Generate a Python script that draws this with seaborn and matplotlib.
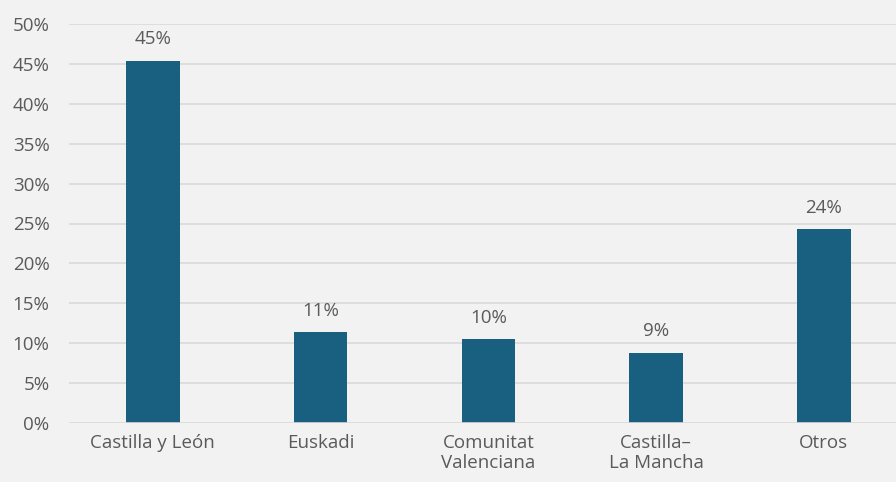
import matplotlib
matplotlib.use("Agg")
import matplotlib.pyplot as plt
import seaborn as sns
import pandas as pd

regiones = ["Castilla y León", "Euskadi", "Comunitat\nValenciana", "Castilla–\nLa Mancha", "Otros"]
valores = [45.4, 11.4, 10.5, 8.8, 24.3]
etiquetas = ["45%", "11%", "10%", "9%", "24%"]
ticks_y = [0, 5, 10, 15, 20, 25, 30, 35, 40, 45, 50]

bg = "#f2f2f2"
azul = "#185f80"
gris_txt = "#5a5a5a"

sns.set_theme(style="white")
plt.rcParams["font.family"] = ["Open Sans", "DejaVu Sans"]

df = pd.DataFrame({"region": regiones, "valor": valores})

fig = plt.figure(figsize=(8.96, 4.82), dpi=100, facecolor=bg)
ax = fig.add_axes([69 / 896, 1 - 423 / 482, 1 - 69 / 896, (423 - 24) / 482])
ax.set_facecolor(bg)

sns.barplot(data=df, x="region", y="valor", color=azul, width=0.32,
            saturation=1, ax=ax, zorder=3, linewidth=0)

# gridlines
for t in ticks_y:
    ax.axhline(t, color="#d9d9d9", lw=1.2, zorder=1 if t > 0 else 4)

for i, (v, lab) in enumerate(zip(valores, etiquetas)):
    ax.annotate(lab, (i, v), xytext=(0, 9), textcoords="offset points",
                ha="center", va="bottom", fontsize=13.5, color=gris_txt)

ax.set_ylim(0, 50)
ax.set_xlim(-0.5, 4.43)
ax.set_yticks(ticks_y)
ax.set_yticklabels([f"{t}%" for t in ticks_y])
ax.set_xlabel("")
ax.set_ylabel("")
ax.tick_params(axis="y", length=0, pad=14, labelsize=13.5, labelcolor=gris_txt)
ax.tick_params(axis="x", length=0, pad=8, labelsize=13.5, labelcolor=gris_txt)
for lab in ax.get_xticklabels():
    lab.set_linespacing(1.1)
sns.despine(ax=ax, left=True, bottom=True, top=True, right=True)

fig.savefig("out.png", dpi=100, facecolor=bg)
